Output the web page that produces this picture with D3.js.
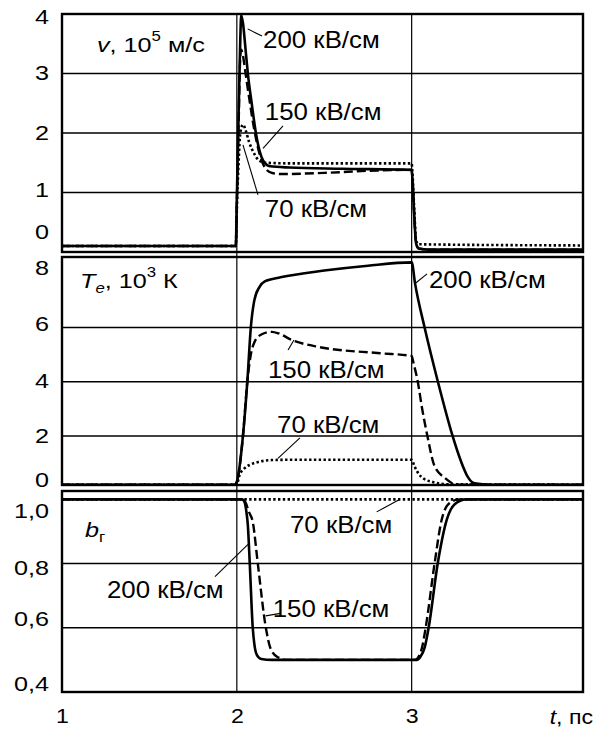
<!DOCTYPE html>
<html>
<head>
<meta charset="utf-8">
<script src="https://cdn.jsdelivr.net/npm/d3@7"></script>
<style>
  html, body { margin: 0; padding: 0; background: #fff; }
  svg { display: block; }
  text { font-family: "Liberation Sans", Arial, sans-serif; fill: #000; }
</style>
</head>
<body>
<svg id="chart" width="598" height="729"></svg>
<script>
// ---- Data: electron drift velocity v (10^5 m/s), electron temperature Te (10^3 K)
// ---- and occupancy b_г of the Γ valley for a field pulse between t = 2 and 3 ps.
const fields = ["70 кВ/см", "150 кВ/см", "200 кВ/см"];

// velocity, 200 kV/cm
const vT200 = [1.0, 1.994, 2.0, 2.01, 2.02, 2.025, 2.035, 2.05, 2.063, 2.085, 2.109, 2.13, 2.15, 2.19, 2.3, 2.6, 3.0, 3.005, 3.015, 3.025, 3.04, 3.1, 3.98];
const v200  = [0.1, 0.1, 0.9, 2.3, 3.6, 3.98, 3.85, 3.4, 3.0, 2.5, 2.0, 1.7, 1.54, 1.44, 1.42, 1.4, 1.38, 1.2, 0.6, 0.15, 0.06, 0.04, 0.04];
// velocity, 150 kV/cm
const vT150 = [1.0, 1.994, 2.0, 2.01, 2.02, 2.025, 2.035, 2.05, 2.07, 2.1, 2.13, 2.16, 2.2, 2.25, 2.5, 2.8, 3.0, 3.005, 3.015, 3.025, 3.04, 3.1, 3.98];
const v150  = [0.1, 0.1, 0.8, 2.1, 3.3, 3.4, 3.3, 3.0, 2.6, 2.05, 1.65, 1.42, 1.33, 1.31, 1.33, 1.37, 1.38, 1.2, 0.6, 0.15, 0.06, 0.04, 0.04];
// velocity, 70 kV/cm
const vT70  = [1.0, 1.994, 2.0, 2.01, 2.02, 2.035, 2.05, 2.07, 2.1, 2.13, 2.17, 2.3, 3.0, 3.005, 3.015, 3.025, 3.04, 3.98];
const v70   = [0.1, 0.1, 0.7, 1.5, 2.0, 2.14, 2.05, 1.85, 1.65, 1.53, 1.5, 1.49, 1.49, 1.3, 0.7, 0.2, 0.13, 0.11];

// electron temperature, 200 kV/cm
const teT200 = [1.0, 1.99, 2.0, 2.035, 2.06, 2.08, 2.1, 2.13, 2.16, 2.25, 2.5, 2.75, 3.0, 3.02, 3.074, 3.15, 3.234, 3.28, 3.32, 3.36, 3.45, 3.98];
const te200  = [0.2, 0.2, 0.3, 2.0, 4.0, 6.0, 7.0, 7.5, 7.7, 7.85, 8.1, 8.28, 8.4, 7.6, 6.0, 4.0, 2.0, 1.1, 0.5, 0.25, 0.2, 0.2];
// electron temperature, 150 kV/cm
const teT150 = [1.0, 1.99, 2.0, 2.035, 2.06, 2.08, 2.1, 2.14, 2.2, 2.24, 2.31, 2.47, 2.82, 3.0, 3.01, 3.035, 3.06, 3.09, 3.13, 3.19, 3.26, 3.98];
const te150  = [0.2, 0.2, 0.3, 2.0, 4.0, 5.0, 5.45, 5.74, 5.84, 5.78, 5.55, 5.28, 5.05, 4.95, 4.7, 4.0, 3.0, 2.0, 0.9, 0.45, 0.2, 0.2];
// electron temperature, 70 kV/cm
const teT70  = [1.0, 1.99, 2.0, 2.015, 2.04, 2.08, 2.13, 2.2, 2.3, 3.0, 3.015, 3.04, 3.07, 3.12, 3.2, 3.98];
const te70   = [0.2, 0.2, 0.22, 0.55, 0.78, 0.95, 1.05, 1.11, 1.12, 1.12, 0.9, 0.6, 0.42, 0.3, 0.22, 0.2];

// Γ-valley occupancy, 200 kV/cm
const bT200 = [1.0, 2.03, 2.045, 2.055, 2.063, 2.074, 2.091, 2.1, 2.115, 2.14, 2.2, 3.03, 3.05, 3.075, 3.097, 3.149, 3.2, 3.246, 3.31, 3.98];
const b200  = [1.0, 1.0, 0.99, 0.96, 0.92, 0.8, 0.6, 0.55, 0.515, 0.503, 0.5, 0.5, 0.51, 0.54, 0.6, 0.8, 0.935, 0.985, 1.0, 1.0];
// Γ-valley occupancy, 150 kV/cm
const bT150 = [1.0, 2.035, 2.05, 2.07, 2.091, 2.12, 2.166, 2.19, 2.23, 2.29, 3.02, 3.04, 3.06, 3.08, 3.131, 3.171, 3.21, 3.27, 3.98];
const b150  = [1.0, 1.0, 0.99, 0.96, 0.93, 0.8, 0.6, 0.54, 0.51, 0.5, 0.5, 0.51, 0.54, 0.6, 0.8, 0.935, 0.985, 1.0, 1.0];
// Γ-valley occupancy, 70 kV/cm
const bT70 = [1.0, 3.98];
const b70  = [1.0, 1.0];

// Axis tick values and labels
const tTicks = [1, 2, 3];
const vTicks = [0, 1, 2, 3, 4];
const teTicks = [0, 2, 4, 6, 8];
const bTicks = [0.4, 0.6, 0.8, 1.0];
const bTickLabels = ["0,4", "0,6", "0,8", "1,0"];

// ---- Layout ----
const svg = d3.select("#chart");
const x = d3.scaleLinear().domain([1, 3.98]).range([62, 583]);

const styles = {
  solid:  { dash: null,      width: 2.6 },
  dashed: { dash: "9,4",     width: 2.4 },
  dotted: { dash: "2.4,2.4", width: 2.6 }
};

// widen glyphs horizontally while keeping the anchor point in place
function stretch(sel, sx) {
  sel.each(function () {
    const t = d3.select(this);
    const px = +t.attr("x") || 0;
    t.attr("x", px / sx).attr("transform", `scale(${sx},1)`);
  });
}

const panels = [
  {
    y: d3.scaleLinear().domain([0, 4]).range([252, 14]),
    grid: [1, 2, 3],
    ticks: vTicks, fmt: d => String(d),
    nudge: { 0: -20, 4: 3, 1: -2 },
    series: [
      { t: vT70, v: v70, s: "dotted" },
      { t: vT150, v: v150, s: "dashed" },
      { t: vT200, v: v200, s: "solid" }
    ],
    notes: [
      { text: fields[2], at: [2.15, 3.43], from: [2.144, 3.63], to: [2.062, 3.75] },
      { text: fields[1], at: [2.16, 2.22], from: [2.264, 2.12], to: [2.15, 1.74] },
      { text: fields[0], at: [2.16, 0.59], from: [2.121, 0.96], to: [2.035, 1.8] }
    ]
  },
  {
    y: d3.scaleLinear().domain([0.19, 8.6]).range([485, 257]),
    grid: [2, 4, 6],
    ticks: teTicks, fmt: d => String(d),
    nudge: { 0: -10, 8: -5, 6: -3 },
    series: [
      { t: teT70, v: te70, s: "dotted" },
      { t: teT150, v: te150, s: "dashed" },
      { t: teT200, v: te200, s: "solid" }
    ],
    notes: [
      { text: fields[2], at: [3.099, 7.46], from: [3.088, 7.98], to: [3.025, 7.65] },
      { text: fields[1], at: [2.178, 4.14], from: [2.293, 5.17], to: [2.327, 5.54] },
      { text: fields[0], at: [2.23, 2.11], from: [2.361, 1.93], to: [2.235, 1.17] }
    ]
  },
  {
    y: d3.scaleLinear().domain([0.4, 1.026]).range([692, 491]),
    grid: [0.6, 0.8],
    ticks: bTicks, fmt: d => bTickLabels[bTicks.indexOf(d)],
    nudge: { 1: 12, 0.8: 5, 0.6: -9, 0.4: -8 },
    series: [
      { t: bT70, v: b70, s: "dotted" },
      { t: bT150, v: b150, s: "dashed" },
      { t: bT200, v: b200, s: "solid" }
    ],
    notes: [
      { text: fields[0], at: [2.304, 0.896], from: [2.80, 0.961], to: [2.933, 1.0] },
      { text: fields[2], at: [1.257, 0.693], from: [1.875, 0.759], to: [2.064, 0.86] },
      { text: fields[1], at: [2.205, 0.634], from: [2.165, 0.637], to: [2.25, 0.645] }
    ]
  }
];

const [x0, x1] = x.range();

panels.forEach(p => {
  const [yb, yt] = p.y.range();
  const g = svg.append("g");

  // horizontal grid lines
  g.selectAll("line.grid").data(p.grid).join("line")
    .attr("x1", x0).attr("x2", x1)
    .attr("y1", d => p.y(d)).attr("y2", d => p.y(d))
    .attr("stroke", "#000").attr("stroke-width", 1.4);

  // curves
  const line = d3.line()
    .x(d => x(d[0])).y(d => p.y(d[1]))
    .curve(d3.curveMonotoneX);
  p.series.forEach(sr => {
    const st = styles[sr.s];
    g.append("path")
      .datum(sr.t.map((t, i) => [t, sr.v[i]]))
      .attr("d", line)
      .attr("fill", "none")
      .attr("stroke", "#000")
      .attr("stroke-width", st.width)
      .attr("stroke-dasharray", st.dash)
      .attr("stroke-linejoin", "round");
  });

  // panel frame
  g.append("rect")
    .attr("x", x0).attr("y", yt)
    .attr("width", x1 - x0).attr("height", yb - yt)
    .attr("fill", "none").attr("stroke", "#000").attr("stroke-width", 2.4);

  // left axis labels
  const ax = g.append("g").attr("transform", `translate(${x0},0)`)
    .call(d3.axisLeft(p.y).tickValues(p.ticks).tickSize(0).tickPadding(13).tickFormat(p.fmt));
  ax.select(".domain").remove();
  ax.selectAll(".tick").attr("transform", d => `translate(0,${p.y(d) + (p.nudge[d] || 0)})`);
  ax.selectAll("text").attr("font-size", 21).attr("font-family", "Liberation Sans, Arial, sans-serif").attr("fill", "#000");
  stretch(ax.selectAll("text"), 1.2);

  // annotations with leader lines
  p.notes.forEach(n => {
    g.append("line")
      .attr("x1", x(n.from[0])).attr("y1", p.y(n.from[1]))
      .attr("x2", x(n.to[0])).attr("y2", p.y(n.to[1]))
      .attr("stroke", "#000").attr("stroke-width", 1.1);
    const tx = g.append("text")
      .attr("x", x(n.at[0])).attr("y", p.y(n.at[1]))
      .attr("font-size", 23.5)
      .text(n.text);
    stretch(tx, 1.1);
  });
});

// vertical grid lines at t = 2 and t = 3 run through all panels
svg.selectAll("line.vgrid").data([2, 3]).join("line")
  .attr("x1", d => x(d)).attr("x2", d => x(d))
  .attr("y1", 14).attr("y2", 692)
  .attr("stroke", "#000").attr("stroke-width", 1.2);

// bottom time axis
const xa = svg.append("g").attr("transform", "translate(0,692)")
  .call(d3.axisBottom(x).tickValues(tTicks).tickSize(0).tickPadding(16).tickFormat(d3.format("d")));
xa.select(".domain").remove();
xa.selectAll("text").attr("font-size", 21).attr("font-family", "Liberation Sans, Arial, sans-serif").attr("fill", "#000");
xa.selectAll(".tick text").attr("transform", "scale(1.1,1)");

const tl = svg.append("text").attr("x", 593).attr("y", 724).attr("font-size", 21).attr("text-anchor", "end");
tl.append("tspan").attr("font-style", "italic").text("t");
tl.append("tspan").text(", пс");
stretch(tl, 1.1);

// panel titles
const t1 = svg.append("text").attr("x", 97).attr("y", 52).attr("font-size", 21);
t1.append("tspan").attr("font-style", "italic").text("v");
t1.append("tspan").text(", 10");
t1.append("tspan").attr("font-size", 14).attr("dy", -11).text("5");
t1.append("tspan").attr("dy", 11).text(" м/с");
stretch(t1, 1.2);

const t2 = svg.append("text").attr("x", 80).attr("y", 288).attr("font-size", 21);
t2.append("tspan").attr("font-style", "italic").text("T");
t2.append("tspan").attr("font-style", "italic").attr("font-size", 14).attr("dy", 5).text("e");
t2.append("tspan").attr("dy", -5).text(", 10");
t2.append("tspan").attr("font-size", 14).attr("dy", -11).text("3");
t2.append("tspan").attr("dy", 11).text(" К");
stretch(t2, 1.2);

const t3 = svg.append("text").attr("x", 85).attr("y", 537).attr("font-size", 21);
t3.append("tspan").attr("font-style", "italic").text("b");
t3.append("tspan").attr("font-size", 14).attr("dy", 5).text("г");
stretch(t3, 1.2);
</script>
</body>
</html>
